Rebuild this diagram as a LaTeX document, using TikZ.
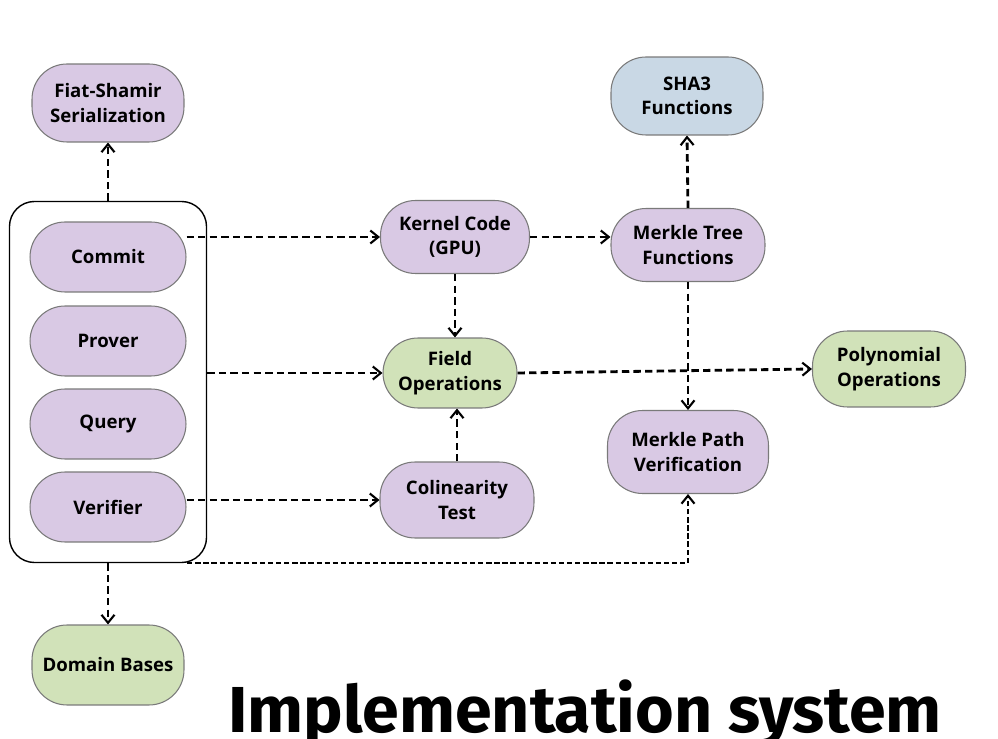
\documentclass[tikz,border=0pt]{standalone}
\usepackage{fontspec}
\setmainfont{Open Sans}
\newfontfamily\titlefont{Fira Sans}
\usetikzlibrary{arrows.meta, fit}

\definecolor{lilac}{HTML}{D9C9E4}
\definecolor{sage}{HTML}{D1E2B9}
\definecolor{sky}{HTML}{C9D8E5}
\definecolor{rim}{HTML}{7A7A7A}

\begin{document}
\begin{tikzpicture}[x=0.02cm, y=-0.02cm,
  blob/.style={draw=rim, line width=0.6pt, rounded corners=0.7cm, align=center,
    font=\bfseries\fontsize{10.6}{14}\selectfont, inner sep=0pt},
  link/.style={line width=1.6pt, dash pattern=on 4.2pt off 2.4pt,
    -{Straight Barb[length=1.6mm, width=2.6mm, line width=1.2pt]}}]
\useasboundingbox (0,0) rectangle (998,739);
%%%  nodes

% left column
\node [blob, fill=lilac, minimum width=3.04cm, minimum height=1.56cm] (fiat) at (108,103) {Fiat-Shamir\\Serialization};
\node [blob, fill=lilac, minimum width=3.12cm, minimum height=1.4cm] (commit) at (108,257) {Commit};
\node [blob, fill=lilac, minimum width=3.12cm, minimum height=1.4cm] (prover) at (108,341) {Prover};
\node [blob, fill=lilac, minimum width=3.12cm, minimum height=1.4cm] (query) at (108,424) {Query};
\node [blob, fill=lilac, minimum width=3.12cm, minimum height=1.4cm] (verifier) at (108,507) {Verifier};
\node [blob, fill=sage, minimum width=3.04cm, minimum height=1.6cm] (domain) at (108,665) {Domain Bases};

% protocol box
\node [draw, line width=0.8pt, rounded corners=0.5cm, inner sep=0.4cm, fit=(commit)(verifier)] (box) {};

% middle column
\node [blob, fill=lilac, minimum width=2.98cm, minimum height=1.46cm] (kernel) at (455,237) {Kernel Code\\(GPU)};
\node [blob, fill=sage, minimum width=2.68cm, minimum height=1.4cm] (field) at (450,373) {Field\\Operations};
\node [blob, fill=lilac, minimum width=3.08cm, minimum height=1.52cm] (colin) at (457,500) {Colinearity\\Test};

% right column
\node [blob, fill=sky, minimum width=3.04cm, minimum height=1.56cm] (sha) at (687,96) {SHA3\\Functions};
\node [blob, fill=lilac, minimum width=3.08cm, minimum height=1.46cm] (mtree) at (688,245) {Merkle Tree\\Functions};
\node [blob, fill=lilac, minimum width=3.22cm, minimum height=1.66cm] (mpath) at (688,452) {Merkle Path\\Verification};
\node [blob, fill=sage, minimum width=3.06cm, minimum height=1.52cm] (poly) at (889,369) {Polynomial\\Operations};

% title
\node [anchor=base, font=\titlefont\bfseries\fontsize{37}{40}\selectfont, xscale=1.02] (title) at (585,733) {Implementation system};

%%% edges

% out of the protocol box
\draw [link] (box.north) -- (fiat.south);
\draw [link] (box.south) -- (domain.north);
\draw [link] (commit.east |- kernel.west) -- (kernel.west);
\draw [link] (box.east |- field.west) -- (field.west);
\draw [link] (verifier.east |- colin.west) -- (colin.west);
\draw [link, line width=1.2pt, dash pattern=on 3pt off 1.6pt] ([xshift=-0.4cm]box.south east) -| (mpath.south);

% field operations
\draw [link] (kernel.south) -- (kernel.south |- field.north);
\draw [link] (colin.north) -- (colin.north |- field.south);
\draw [link] (field.east) -- (poly.west);

% merkle
\draw [link] (kernel.east) -- (mtree.west |- kernel.east);
\draw [link] (mtree.north) -- (sha.south);
\draw [link] (mtree.south) -- (mpath.north);
\end{tikzpicture}
\end{document}
